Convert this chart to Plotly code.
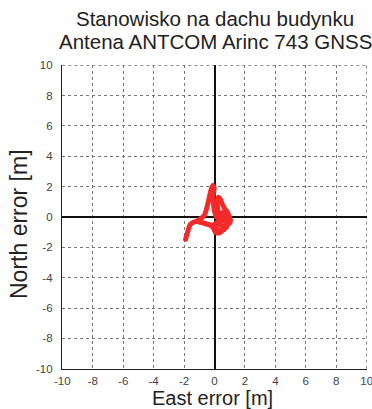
import plotly.graph_objects as go

# Horizontal position error track (metres)
east = [-1.90, -1.86, -1.82, -1.78, -1.74, -1.70, -1.66, -1.60, -1.50, -1.38,
        -1.25, -1.12, -1.00, -0.88, -0.76, -0.66, -0.60, -0.56, -0.52, -0.48,
        -0.45, -0.41, -0.38, -0.35, -0.32, -0.29, -0.26, -0.22, -0.17, -0.10,
        -0.04, -0.02, -0.05, -0.08, -0.10, -0.11, -0.09, -0.06, -0.06, -0.04,
        -0.02, 0.02, 0.07, 0.12, 0.18, 0.22, 0.23, 0.21, 0.19, 0.20,
        0.23, 0.27, 0.35, 0.42, 0.48, 0.55, 0.62, 0.70, 0.80, 0.88,
        0.95, 1.00, 1.05, 1.02, 0.92, 0.80, 0.70, 0.60, 0.50, 0.42,
        0.30, 0.18, 0.06, 0.00, -0.06, -0.14, -0.26, -0.40, -0.55, -0.70,
        -0.85, -1.00, -1.12, -0.95, -0.75, -0.55, -0.35, -0.15, 0.05, 0.25,
        0.40, 0.52, 0.58, 0.50, 0.40, 0.34, 0.40, 0.52, 0.64, 0.74,
        0.80, 0.72, 0.60, 0.48, 0.36, 0.26, 0.18, 0.30, 0.44, 0.58,
        0.70, 0.82, 0.90, 0.78, 0.62, 0.46, 0.32, 0.20, 0.10, 0.04]
north = [-1.46, -1.32, -1.18, -1.04, -0.90, -0.76, -0.62, -0.50, -0.42, -0.35,
         -0.30, -0.24, -0.16, -0.08, 0.02, 0.14, 0.28, 0.42, 0.56, 0.70,
         0.84, 0.98, 1.12, 1.26, 1.40, 1.54, 1.68, 1.82, 1.96, 2.08,
         2.00, 1.84, 1.68, 1.52, 1.36, 1.20, 1.05, 0.90, 0.75, 0.60,
         0.45, 0.30, 0.15, 0.02, 0.12, 0.30, 0.50, 0.70, 0.90, 1.08,
         1.24, 1.30, 1.22, 1.08, 0.94, 0.78, 0.62, 0.50, 0.40, 0.26,
         0.10, -0.06, -0.22, -0.36, -0.46, -0.52, -0.62, -0.74, -0.86, -0.98,
         -1.05, -1.06, -1.00, -0.88, -0.76, -0.64, -0.56, -0.50, -0.45, -0.40,
         -0.36, -0.32, -0.30, -0.34, -0.40, -0.46, -0.50, -0.52, -0.44, -0.30,
         -0.16, 0.00, 0.16, 0.28, 0.20, 0.04, -0.12, -0.24, -0.30, -0.18,
         -0.02, 0.12, 0.20, 0.10, -0.06, -0.20, -0.34, -0.46, -0.56, -0.62,
         -0.58, -0.48, -0.30, -0.70, -0.84, -0.92, -0.90, -0.80, -0.66, -0.50]

ticks = list(range(-10, 11, 2))
tick_text = [str(t) for t in ticks]
axis_limit = 10
title_lines = ["Stanowisko na dachu budynku", "Antena ANTCOM Arinc 743 GNSS"]
x_label = "East error [m]"
y_label = "North error [m]"

FONT = "Liberation Sans, Arial"
RED = "#f42a2a"
GRID = "#777777"
TEXT = "#222222"

fig = go.Figure()
fig.add_trace(go.Scatter(
    x=east, y=north, mode="lines+markers",
    line=dict(color=RED, width=3),
    marker=dict(color=RED, size=5),
    hoverinfo="skip", showlegend=False,
))

axis_common = dict(
    range=[-10.02, 10.02], tickvals=ticks, ticktext=tick_text,
    showgrid=True, gridcolor=GRID, griddash="dot", gridwidth=1,
    zeroline=True, zerolinecolor="#111111", zerolinewidth=1.6,
    showline=True, linecolor=TEXT, linewidth=1.2, mirror=False,
    ticks="", tickfont=dict(family=FONT, size=11.5, color="#444444"),
    ticklabeloverflow="allow", automargin=False, fixedrange=True,
)

fig.update_layout(
    width=372, height=409,
    margin=dict(l=62, r=5, t=65, b=40, autoexpand=False),
    paper_bgcolor="white", plot_bgcolor="white",
    font=dict(family=FONT, color=TEXT),
    xaxis=dict(**axis_common, ticklabelstandoff=1),
    yaxis=dict(**axis_common, ticklabelstandoff=6),
)

# dotted grid lines along the top and right limits
fig.add_shape(type="line", xref="x", yref="y",
              x0=-axis_limit, x1=axis_limit, y0=axis_limit, y1=axis_limit,
              line=dict(color=GRID, width=1, dash="dot"), layer="below")
fig.add_shape(type="line", xref="x", yref="y",
              x0=axis_limit, x1=axis_limit, y0=-axis_limit, y1=axis_limit,
              line=dict(color=GRID, width=1, dash="dot"), layer="below")

# two-line heading above the axes
for text, ypos in zip(title_lines, [1.152, 1.077]):
    fig.add_annotation(
        text=text, xref="paper", yref="paper", x=0.502, y=ypos,
        xanchor="center", yanchor="middle", showarrow=False,
        font=dict(family=FONT, size=20.5, color=TEXT),
    )

# axis labels
fig.add_annotation(text=x_label, xref="paper", yref="paper", x=0.495, y=-0.0955,
                   xanchor="center", yanchor="middle", showarrow=False,
                   font=dict(family=FONT, size=20, color=TEXT))
fig.add_annotation(text=y_label, xref="paper", yref="paper", x=-0.141, y=0.477,
                   xanchor="center", yanchor="middle", showarrow=False,
                   textangle=-90, font=dict(family=FONT, size=23, color=TEXT))

fig.write_html("out.html")
